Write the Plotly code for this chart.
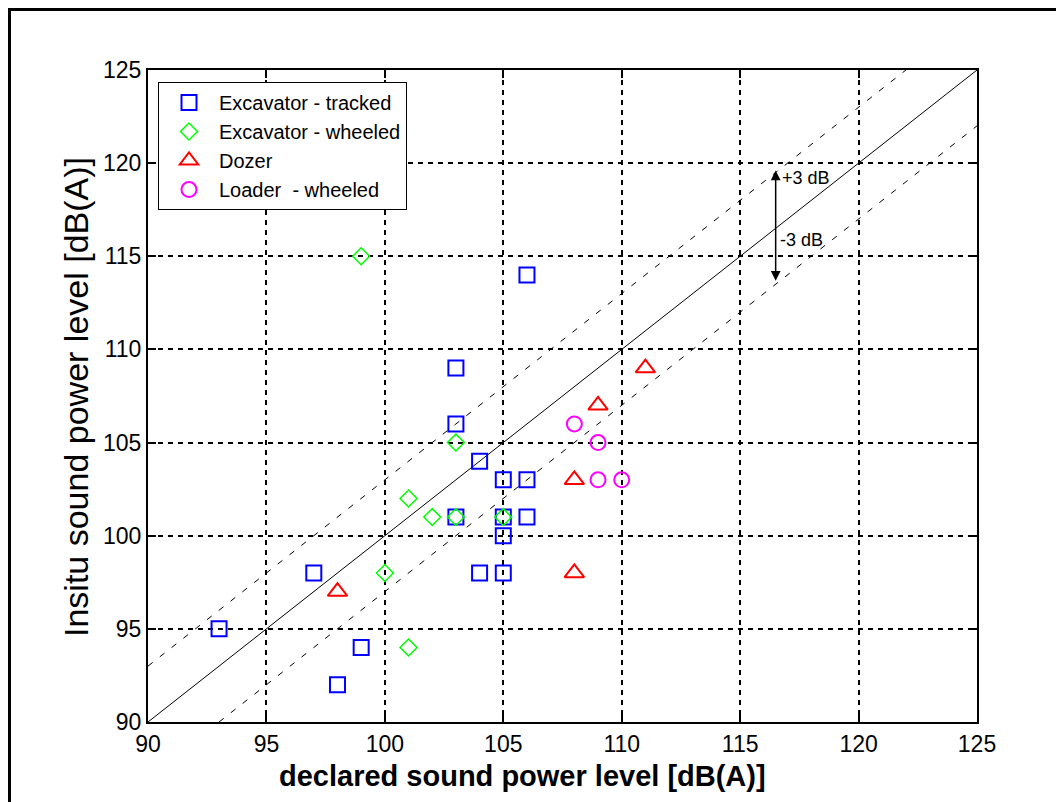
import plotly.graph_objects as go

# ---- data ----
exc_tracked_x = [93, 97, 98, 99, 103, 103, 103, 104, 104, 105, 105, 105, 105, 106, 106, 106]
exc_tracked_y = [95, 98, 92, 94, 109, 106, 101, 104, 98, 103, 101, 100, 98, 114, 103, 101]

exc_wheeled_x = [99, 100, 101, 101, 102, 103, 103, 105]
exc_wheeled_y = [115, 98, 102, 94, 101, 105, 101, 101]

dozer_x = [98, 108, 108, 109, 111]
dozer_y = [97, 103, 98, 107, 109]

loader_x = [108, 109, 109, 110]
loader_y = [106, 105, 103, 103]

axis_min = 90
axis_max = 125
tolerance = 3
tick_vals = [90, 95, 100, 105, 110, 115, 120, 125]

arrow_x = 116.5
arrow_y_low = 113.6
arrow_y_high = 119.6

FONT = "Liberation Sans, Arial, sans-serif"

# page offset (body margin) is 8px; plot area target: x 148..977, y 70..722 in screenshot
OFF = 8
L, T, PW, PH = 148 - OFF, 70 - OFF, 829, 652
W, H = 1064 - OFF, 802 - OFF

fig = go.Figure()

# reference lines
fig.add_trace(go.Scatter(x=[axis_min, axis_max], y=[axis_min, axis_max], mode="lines",
                         line=dict(color="black", width=1), showlegend=False, hoverinfo="skip"))
fig.add_trace(go.Scatter(x=[axis_min, axis_max - tolerance], y=[axis_min + tolerance, axis_max], mode="lines",
                         line=dict(color="black", width=1, dash="6px,9px"), showlegend=False, hoverinfo="skip"))
fig.add_trace(go.Scatter(x=[axis_min + tolerance, axis_max], y=[axis_min, axis_max - tolerance], mode="lines",
                         line=dict(color="black", width=1, dash="6px,9px"), showlegend=False, hoverinfo="skip"))

fig.add_trace(go.Scatter(x=exc_tracked_x, y=exc_tracked_y, mode="markers", name="Excavator - tracked",
                         marker=dict(symbol="square-open", size=15, color="#0000FF", line=dict(width=2, color="#0000FF"))))
fig.add_trace(go.Scatter(x=exc_wheeled_x, y=exc_wheeled_y, mode="markers", name="Excavator - wheeled",
                         marker=dict(symbol="diamond-open", size=13, color="#00FF00", line=dict(width=1.5, color="#00FF00"))))
fig.add_trace(go.Scatter(x=dozer_x, y=dozer_y, mode="markers", name="Dozer",
                         marker=dict(symbol="triangle-up-open", size=17, color="#FF0000", line=dict(width=2, color="#FF0000"))))
fig.add_trace(go.Scatter(x=loader_x, y=loader_y, mode="markers", name="Loader  - wheeled",
                         marker=dict(symbol="circle-open", size=15, color="#FF00FF", line=dict(width=2, color="#FF00FF"))))

axis_common = dict(
    range=[axis_min, axis_max], tickvals=tick_vals, ticktext=[str(v) for v in tick_vals],
    showgrid=True, gridcolor="black", griddash="5px,5px", gridwidth=1.5,
    ticks="inside", ticklen=8, tickwidth=1.5, tickcolor="black",
    showline=True, linecolor="black", linewidth=2, mirror="ticks",
    zeroline=False, tickfont=dict(family=FONT, size=23, color="black"),
)
fig.update_xaxes(**axis_common)
fig.update_yaxes(**axis_common)

annotations = [
    dict(x=arrow_x, y=arrow_y_high, ax=arrow_x, ay=arrow_y_low, xref="x", yref="y", axref="x", ayref="y",
         text="", showarrow=True, arrowside="end+start", arrowhead=2, startarrowhead=2,
         arrowsize=1.3, startarrowsize=1.3, arrowwidth=1.5, arrowcolor="black"),
    dict(x=116.7, y=119.2, xref="x", yref="y", text="+3 dB", showarrow=False, xanchor="left",
         font=dict(family=FONT, size=18, color="black")),
    dict(x=116.6, y=115.9, xref="x", yref="y", text="-3 dB", showarrow=False, xanchor="left",
         font=dict(family=FONT, size=18, color="black")),
    dict(x=(522 - 148) / PW, y=(722 - 776) / PH, xref="paper", yref="paper",
         text="<b>declared sound power level [dB(A)]</b>", showarrow=False, xanchor="center", yanchor="middle",
         font=dict(family=FONT, size=29, color="black")),
    dict(x=(76 - 148) / PW, y=(722 - 397) / PH, xref="paper", yref="paper", textangle=-90,
         text="Insitu sound power level [dB(A)]", showarrow=False, xanchor="center", yanchor="middle",
         font=dict(family=FONT, size=34, color="black")),
]

fig.update_layout(
    width=W, height=H,
    margin=dict(l=L, r=W - L - PW, t=T, b=H - T - PH),
    paper_bgcolor="white", plot_bgcolor="white",
    annotations=annotations,
    legend=dict(x=(158 - 148) / PW, y=1 - 12 / PH, xanchor="left", yanchor="top",
                bordercolor="black", borderwidth=1, bgcolor="white",
                font=dict(family=FONT, size=20, color="black"), itemwidth=50),
    shapes=[dict(type="rect", xref="paper", yref="paper",
                 x0=(1.5 - L) / PW, x1=1.3, y0=-0.5, y1=1 + (T - 1.5) / PH,
                 line=dict(color="black", width=3))],
)

fig.write_html("out.html")
